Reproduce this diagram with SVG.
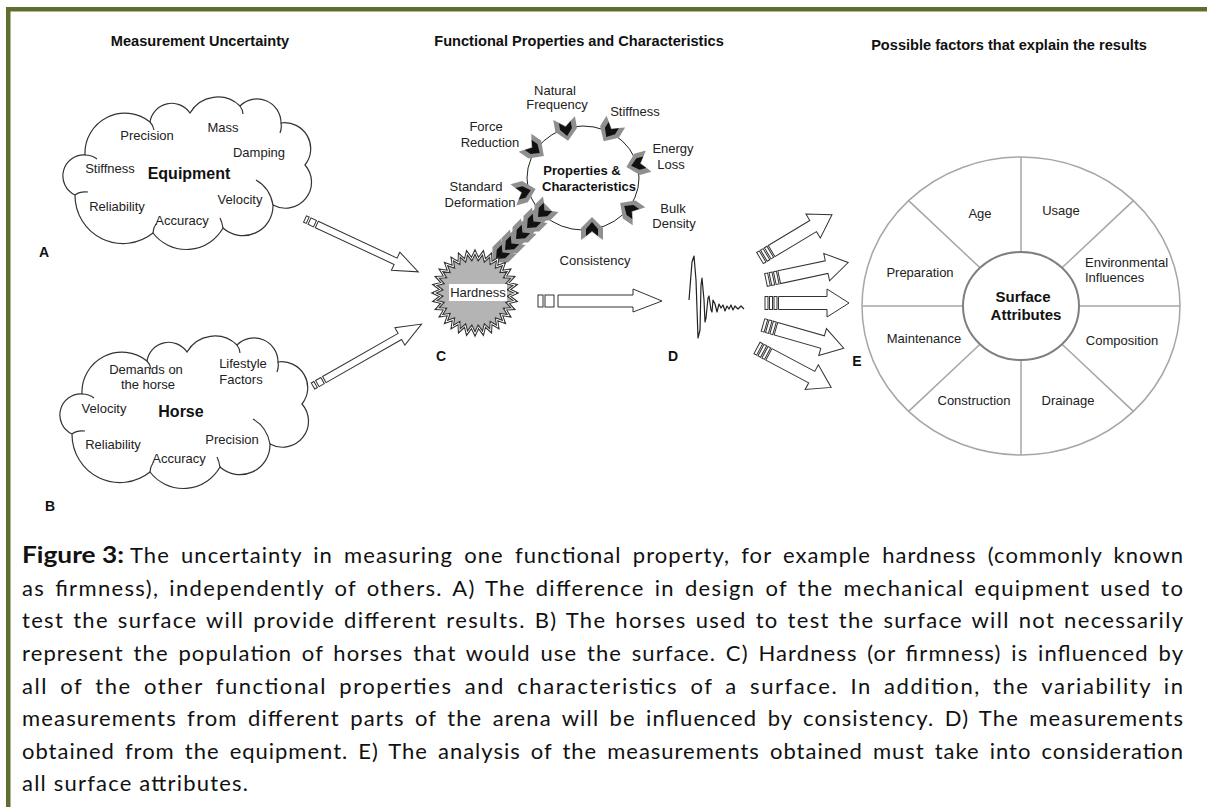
<svg xmlns="http://www.w3.org/2000/svg" xmlns:xlink="http://www.w3.org/1999/xlink" width="1207" height="807" viewBox="0 0 1207 807">
<style>
.t{font-family:"Liberation Sans",Arial,sans-serif;font-size:13px;fill:#222;text-anchor:middle}
.tb{font-family:"Liberation Sans",Arial,sans-serif;font-weight:bold;fill:#111;text-anchor:middle}
.h{font-size:14.6px}
.lt{font-size:14px}
.cap{font-family:Lato,"Open Sans",sans-serif;font-size:22px;fill:#111}
.cloud{fill:#fff;stroke:#333;stroke-width:1.2}
.inner{fill:none;stroke:#333;stroke-width:1.2}
.arr{fill:#fff;stroke:#333;stroke-width:1}
.wh{fill:none;stroke:#a6a6a6;stroke-width:1.5}
</style>
<defs>
<g id="cloudShape">
<path class="cloud" d="M85,155 A40,40 0 0 1 150,122 A22,22 0 0 1 190,113 A32,32 0 0 1 240,106 A24,24 0 0 1 281,123 A26,26 0 0 1 305,165 A26,26 0 0 1 273,205 A30,30 0 0 1 223,228 A42,42 0 0 1 153,233 A48,48 0 0 1 75,195 A21,21 0 0 1 85,155 Z"/>
<path class="inner" d="M85,155 Q92,155 97,159 M150,122 Q153,125 154,130 M273,205 Q270,188 256,180 M223,228 Q222,222 220,218 M153,233 Q153,228 156,224 M75,195 Q80,191 88,192 M240,106 Q243,110 243,114 M281,123 Q282,128 280,133"/>
</g>
<g id="chev">
<polygon points="-11,-11 1,-11 12,0 1,11 -11,11 -3,0" fill="#8f8f8f"/>
<polygon points="-7,-6 0,-6 7,0 0,6 -7,6 -2,0" fill="#111"/>
</g>
<g id="arrA">
<rect class="arr" x="0" y="-3.5" width="3" height="7"/>
<rect class="arr" x="5" y="-3.5" width="6" height="7"/>
<polygon class="arr" points="13,-3.5 100,-3.5 100,-10 125,0 100,10 100,3.5 13,3.5"/>
</g>
<g id="fan">
<rect class="arr" x="0" y="-6.5" width="3" height="13"/>
<rect class="arr" x="4.5" y="-6.5" width="3" height="13"/>
<rect class="arr" x="9" y="-6.5" width="3" height="13"/>
<polygon class="arr" points="13.5,-6.5 62,-6.5 62,-14 84,0 62,14 62,6.5 13.5,6.5"/>
</g>
<polygon id="star" points="41,0 33.84,3.33 40.21,8 32.54,9.87 37.88,15.69 29.99,16.03 34.09,22.78 26.28,21.57 28.99,28.99 21.57,26.28 22.78,34.09 16.03,29.99 15.69,37.88 9.87,32.54 8,40.21 3.33,33.84 0,41 -3.33,33.84 -8,40.21 -9.87,32.54 -15.69,37.88 -16.03,29.99 -22.78,34.09 -21.57,26.28 -28.99,28.99 -26.28,21.57 -34.09,22.78 -29.99,16.03 -37.88,15.69 -32.54,9.87 -40.21,8 -33.84,3.33 -41,0 -33.84,-3.33 -40.21,-8 -32.54,-9.87 -37.88,-15.69 -29.99,-16.03 -34.09,-22.78 -26.28,-21.57 -28.99,-28.99 -21.57,-26.28 -22.78,-34.09 -16.03,-29.99 -15.69,-37.88 -9.87,-32.54 -8,-40.21 -3.33,-33.84 0,-41 3.33,-33.84 8,-40.21 9.87,-32.54 15.69,-37.88 16.03,-29.99 22.78,-34.09 21.57,-26.28 28.99,-28.99 26.28,-21.57 34.09,-22.78 29.99,-16.03 37.88,-15.69 32.54,-9.87 40.21,-8 33.84,-3.33"/>
</defs>

<rect width="1207" height="807" fill="#fff"/>
<g id="frame" fill="#5d6e2f">
<rect x="6" y="7" width="1201" height="4.5"/>
<rect x="6" y="7" width="4.5" height="800"/>
</g>

<g id="titles">
<text class="tb h" x="200" y="46">Measurement Uncertainty</text>
<text class="tb h" x="579" y="46">Functional Properties and Characteristics</text>
<text class="tb h" x="1009" y="50">Possible factors that explain the results</text>
</g>

<g id="equipment">
<use xlink:href="#cloudShape"/>
<text class="t" x="147" y="140">Precision</text>
<text class="t" x="223" y="132">Mass</text>
<text class="t" x="259" y="157">Damping</text>
<text class="t" x="110" y="173">Stiffness</text>
<text class="tb" x="189" y="179" font-size="16">Equipment</text>
<text class="t" x="240" y="204">Velocity</text>
<text class="t" x="117" y="211">Reliability</text>
<text class="t" x="182" y="225">Accuracy</text>
<text class="tb lt" x="44" y="257">A</text>
</g>

<g id="horse">
<use xlink:href="#cloudShape" transform="translate(-3,239)"/>
<text class="t" x="146" y="374">Demands on</text>
<text class="t" x="148" y="389">the horse</text>
<text class="t" x="243" y="368">Lifestyle</text>
<text class="t" x="241" y="384">Factors</text>
<text class="t" x="104" y="413">Velocity</text>
<text class="tb" x="181" y="417" font-size="16">Horse</text>
<text class="t" x="113" y="449">Reliability</text>
<text class="t" x="232" y="444">Precision</text>
<text class="t" x="179" y="463">Accuracy</text>
<text class="tb lt" x="50" y="511">B</text>
</g>

<g id="properties">
<ellipse cx="583" cy="178" rx="56" ry="52" fill="none" stroke="#222" stroke-width="1"/>
<text class="tb" x="582" y="175" font-size="13">Properties &amp;</text>
<text class="tb" x="589" y="191" font-size="13">Characteristics</text>
<line x1="548" y1="207" x2="498" y2="257" stroke="#8f8f8f" stroke-width="16"/>
<use xlink:href="#chev" transform="translate(566,129) rotate(80)"/>
<use xlink:href="#chev" transform="translate(610,131) rotate(122)"/>
<use xlink:href="#chev" transform="translate(534,149) rotate(35)"/>
<use xlink:href="#chev" transform="translate(638,164) rotate(165)"/>
<use xlink:href="#chev" transform="translate(524,192) rotate(-15)"/>
<use xlink:href="#chev" transform="translate(630,210) rotate(215)"/>
<use xlink:href="#chev" transform="translate(592,229) rotate(-90)"/>
<use xlink:href="#chev" transform="translate(543,212) rotate(135)"/>
<use xlink:href="#chev" transform="translate(532,223) rotate(135)"/>
<use xlink:href="#chev" transform="translate(521,234) rotate(135)"/>
<use xlink:href="#chev" transform="translate(510,245) rotate(135)"/>
<use xlink:href="#chev" transform="translate(501,254) rotate(135)"/>
<text class="t" x="555" y="95">Natural</text>
<text class="t" x="557" y="109">Frequency</text>
<text class="t" x="635" y="116">Stiffness</text>
<text class="t" x="486" y="131">Force</text>
<text class="t" x="490" y="147">Reduction</text>
<text class="t" x="673" y="153">Energy</text>
<text class="t" x="671" y="169">Loss</text>
<text class="t" x="476" y="191">Standard</text>
<text class="t" x="480" y="207">Deformation</text>
<text class="t" x="673" y="213">Bulk</text>
<text class="t" x="674" y="228">Density</text>
<text class="t" x="595" y="265">Consistency</text>
</g>

<g id="hardness">
<use xlink:href="#star" transform="translate(475,293)" fill="#b4b4b4" stroke="#333" stroke-width="3"/>
<use xlink:href="#star" transform="translate(475,293)" fill="none" stroke="#fff" stroke-width="1"/>
<rect x="449" y="284" width="58" height="17" fill="#fff"/>
<text class="t" x="478" y="297" font-size="12">Hardness</text>
<text class="tb lt" x="441" y="361">C</text>
</g>

<g id="measurement">
<path d="M689,300 L692,262 L694,256 L696,280 L698,338 L700,330 L701,285 L702,278 L704,300 L705,322 L706,318 L708,298 L709,296 L711,310 L712,312 L713,300 L715,304 L717,312 L719,304 L721,308 L723,305 L725,311 L727,306 L729,309 L731,305 L733,310 L735,306 L738,309 L741,306 L744,309" fill="none" stroke="#222" stroke-width="1.2" stroke-linejoin="round"/>
<text class="tb lt" x="673" y="361">D</text>
</g>

<g id="surface">
<ellipse cx="1021" cy="306" rx="159" ry="149" class="wh"/>
<line class="wh" x1="1021" y1="157" x2="1021" y2="252"/>
<line class="wh" x1="1021" y1="360" x2="1021" y2="455"/>
<line class="wh" x1="862" y1="306" x2="963" y2="306"/>
<line class="wh" x1="1079" y1="306" x2="1180" y2="306"/>
<line class="wh" x1="908.6" y1="200.6" x2="980" y2="267.8"/>
<line class="wh" x1="1133.4" y1="200.6" x2="1062" y2="267.8"/>
<line class="wh" x1="908.6" y1="411.4" x2="980" y2="344.2"/>
<line class="wh" x1="1133.4" y1="411.4" x2="1062" y2="344.2"/>
<ellipse cx="1021" cy="306" rx="58" ry="54" fill="#fff" stroke="#7f7f7f" stroke-width="2"/>
<text class="tb" x="1023" y="302" font-size="15">Surface</text>
<text class="tb" x="1026" y="320" font-size="15">Attributes</text>
<text class="t" x="980" y="218">Age</text>
<text class="t" x="1061" y="215">Usage</text>
<text class="t" x="920" y="277">Preparation</text>
<text class="t" x="1085" y="267" style="text-anchor:start">Environmental</text>
<text class="t" x="1085" y="282" style="text-anchor:start">Influences</text>
<text class="t" x="924" y="343">Maintenance</text>
<text class="t" x="1122" y="345">Composition</text>
<text class="t" x="974" y="405">Construction</text>
<text class="t" x="1068" y="405">Drainage</text>
<text class="tb lt" x="857" y="366">E</text>
</g>

<g id="connectors">
<use xlink:href="#arrA" transform="translate(305,219) rotate(25)"/>
<use xlink:href="#arrA" transform="translate(313,386) rotate(-29.7)"/>
<rect class="arr" x="538" y="295" width="5" height="12"/>
<rect class="arr" x="545" y="295" width="9" height="12"/>
<polygon class="arr" points="558,295 633,295 633,289 662,301 633,312 633,307 558,307"/>
<use xlink:href="#fan" transform="translate(760,258) rotate(-31)"/>
<use xlink:href="#fan" transform="translate(766,280) rotate(-12)"/>
<use xlink:href="#fan" transform="translate(765,303)"/>
<use xlink:href="#fan" transform="translate(763,325) rotate(16)"/>
<use xlink:href="#fan" transform="translate(757,348) rotate(28)"/>
</g>

<g id="caption">
<text class="cap" x="22" y="563" font-weight="bold" textLength="102" lengthAdjust="spacingAndGlyphs">Figure 3:</text>
<text class="cap" x="130" y="563" word-spacing="4.5" textLength="1053" lengthAdjust="spacing">The uncertainty in measuring one functional property, for example hardness (commonly known</text>
<text class="cap" x="22" y="596" word-spacing="3" textLength="1161" lengthAdjust="spacing">as firmness), independently of others. A) The difference in design of the mechanical equipment used to</text>
<text class="cap" x="22" y="628" word-spacing="2" textLength="1161" lengthAdjust="spacing">test the surface will provide different results. B) The horses used to test the surface will not necessarily</text>
<text class="cap" x="22" y="661" word-spacing="3" textLength="1161" lengthAdjust="spacing">represent the population of horses that would use the surface. C) Hardness (or firmness) is influenced by</text>
<text class="cap" x="22" y="694" word-spacing="5" textLength="1161" lengthAdjust="spacing">all of the other functional properties and characteristics of a surface. In addition, the variability in</text>
<text class="cap" x="22" y="726" word-spacing="3.5" textLength="1161" lengthAdjust="spacing">measurements from different parts of the arena will be influenced by consistency. D) The measurements</text>
<text class="cap" x="22" y="759" word-spacing="3.5" textLength="1161" lengthAdjust="spacing">obtained from the equipment. E) The analysis of the measurements obtained must take into consideration</text>
<text class="cap" x="22" y="791" textLength="226" lengthAdjust="spacing">all surface attributes.</text>
</g>
</svg>
